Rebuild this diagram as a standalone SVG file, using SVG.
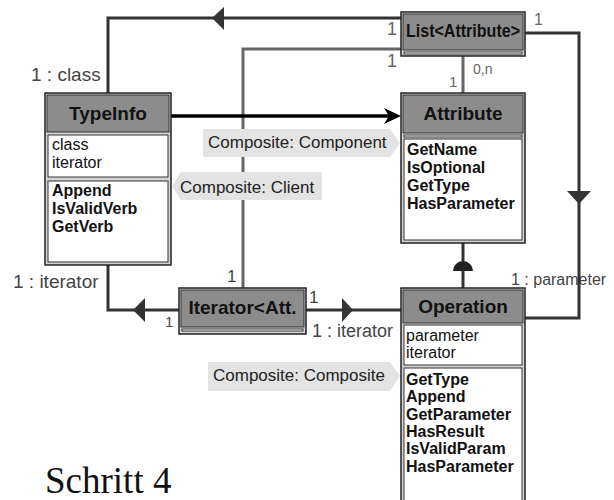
<svg xmlns="http://www.w3.org/2000/svg" width="614" height="500" viewBox="0 0 614 500">
<style>
.frame{fill:#d4d4d4;stroke:#222;stroke-width:1.5}
.head{fill:#8c8c8c;stroke:#333;stroke-width:1}
.comp{fill:#fff;stroke:#333;stroke-width:1}
.title{font-family:"Liberation Sans",Arial,sans-serif;font-weight:bold;font-size:19px;fill:#111;text-anchor:middle}
.mem{font-family:"Liberation Sans",Arial,sans-serif;font-weight:bold;font-size:16px;fill:#111}
.att{font-family:"Liberation Sans",Arial,sans-serif;font-size:16px;fill:#111}
.lbl{font-family:"Liberation Sans",Arial,sans-serif;fill:#444}
.num{font-family:"Liberation Sans",Arial,sans-serif;fill:#666}
.dark{fill:none;stroke:#333;stroke-width:3}
.black{fill:none;stroke:#000;stroke-width:3.5}
.gray{fill:none;stroke:#666;stroke-width:3}
.tag{fill:#e3e3e3}
.tagt{font-family:"Liberation Sans",Arial,sans-serif;font-size:17px;fill:#222}
</style>
<rect width="614" height="500" fill="#fff"/>
<g id="labels">
<text class="lbl" x="31" y="81" font-size="19">1 : class</text>
<text class="num" x="387" y="35" font-size="18">1</text>
<text class="num" x="387" y="67" font-size="18">1</text>
<text class="num" x="534" y="25" font-size="16">1</text>
<text class="num" x="473" y="74" font-size="14">0,n</text>
<text class="num" x="449" y="87" font-size="15">1</text>
<text class="lbl" x="511" y="285" font-size="16">1 : parameter</text>
<text class="lbl" x="13" y="288" font-size="19">1 : iterator</text>
<text class="lbl" x="165" y="327" font-size="15">1</text>
<text class="lbl" x="227" y="282" font-size="17">1</text>
<text class="lbl" x="309" y="303" font-size="17">1</text>
<text class="lbl" x="312" y="337" font-size="18">1 : iterator</text>
</g>
<g id="connectors">
<path class="dark" d="M401,18 H108 V94"/>
<polygon points="212,18 224,7 224,30" fill="#333"/>
<path class="gray" d="M401,49 H243 V288"/>
<path class="gray" d="M463,55 V93"/>
<path class="black" d="M171,116 H396"/>
<polygon points="401,116 384,108 389,116 384,124" fill="#000"/>
<path class="dark" d="M525,33 H579 V318 H525"/>
<polygon points="567,191 591,191 579,204" fill="#333"/>
<path class="dark" d="M463,243 V288"/>
<path d="M453,271 A10,10 0 0 1 473,271 Z" fill="#222"/>
<path class="dark" d="M179,310 H108 V264"/>
<polygon points="133,310 145,298 145,322" fill="#333"/>
<path class="dark" d="M306,310 H401"/>
<polygon points="353,310 342,298 342,322" fill="#333"/>
</g>
<g id="tags">
<polygon class="tag" points="203,129 390,129 400,143 390,157 203,157"/>
<text class="tagt" x="208" y="148">Composite: Component</text>
<polygon class="tag" points="172,186 181,172 322,172 322,200 181,200"/>
<text class="tagt" x="180" y="193">Composite: Client</text>
<polygon class="tag" points="208,362 390,362 400,376 390,391 208,391"/>
<text class="tagt" x="213" y="381">Composite: Composite</text>
</g>
<g id="TypeInfo">
<rect class="frame" x="45" y="93" width="126" height="172"/>
<rect class="head" x="47" y="95" width="122" height="37"/>
<rect class="comp" x="48" y="135" width="120" height="42"/>
<rect class="comp" x="48" y="181" width="120" height="81"/>
<text class="title" x="108" y="120">TypeInfo</text>
<text class="att" x="52" y="150">class</text>
<text class="att" x="52" y="168">iterator</text>
<text class="mem" x="52" y="196">Append</text>
<text class="mem" x="52" y="214">IsValidVerb</text>
<text class="mem" x="52" y="232">GetVerb</text>
</g>
<g id="List">
<rect class="frame" x="401" y="12" width="124" height="44"/>
<rect class="head" x="403" y="14" width="120" height="36"/>
<rect class="comp" x="404" y="52" width="118" height="2"/>
<text class="title" x="463" y="37" font-size="17" textLength="114" lengthAdjust="spacingAndGlyphs">List&lt;Attribute&gt;</text>
</g>
<g id="Attribute">
<rect class="frame" x="401" y="93" width="124" height="150"/>
<rect class="head" x="403" y="95" width="120" height="38"/>
<rect class="comp" x="404" y="135" width="118" height="2"/>
<rect class="comp" x="404" y="139" width="118" height="101"/>
<text class="title" x="463" y="120">Attribute</text>
<text class="mem" x="407" y="155">GetName</text>
<text class="mem" x="407" y="173">IsOptional</text>
<text class="mem" x="407" y="191">GetType</text>
<text class="mem" x="407" y="209">HasParameter</text>
</g>
<g id="Iterator">
<rect class="frame" x="179" y="288" width="127" height="46"/>
<rect class="head" x="181" y="290" width="123" height="37"/>
<rect class="comp" x="182" y="329" width="121" height="2"/>
<text class="title" x="242.5" y="314">Iterator&lt;Att.</text>
</g>
<g id="Operation">
<rect class="frame" x="401" y="288" width="124" height="222"/>
<rect class="head" x="403" y="290" width="120" height="33"/>
<rect class="comp" x="404" y="325" width="118" height="40"/>
<rect class="comp" x="404" y="368" width="118" height="140"/>
<text class="title" x="463" y="313">Operation</text>
<text class="att" x="406" y="341">parameter</text>
<text class="att" x="406" y="358">iterator</text>
<text class="mem" x="406" y="385">GetType</text>
<text class="mem" x="406" y="402">Append</text>
<text class="mem" x="406" y="420">GetParameter</text>
<text class="mem" x="406" y="437">HasResult</text>
<text class="mem" x="406" y="454">IsValidParam</text>
<text class="mem" x="406" y="472">HasParameter</text>
</g>
<text x="45" y="493" font-family="'Liberation Serif','Times New Roman',serif" font-size="37" fill="#111">Schritt 4</text>
</svg>
